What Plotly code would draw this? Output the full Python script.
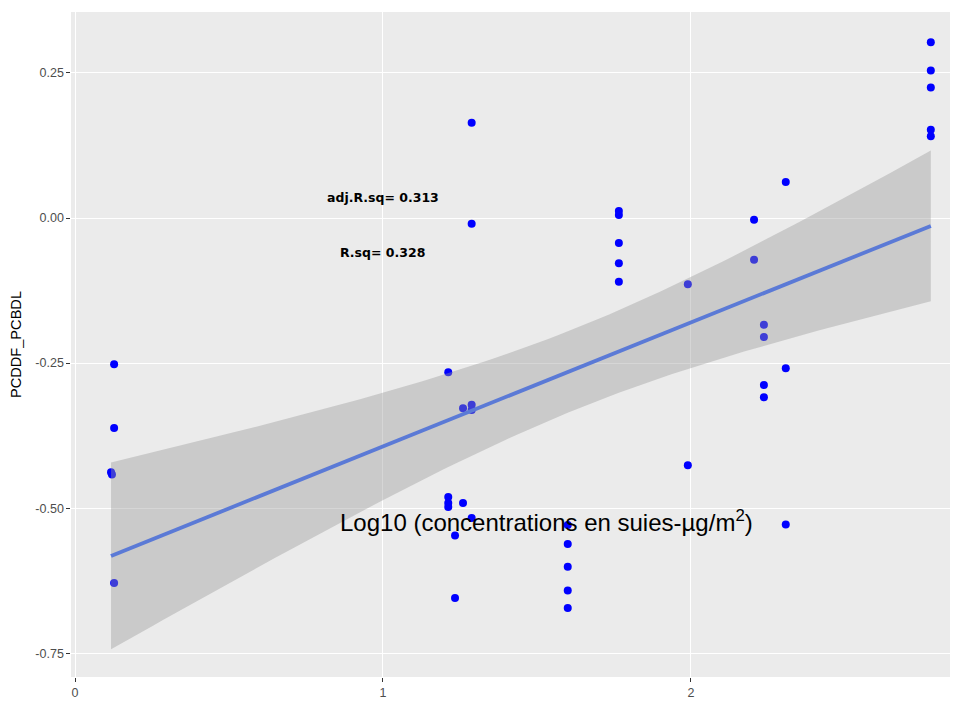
import numpy as np
import plotly.graph_objects as go

# Log10 concentration (x) and PCDDF_PCBDL (y)
x_vals = [0.127, 0.127, 0.117, 0.120, 0.127,
          1.212, 1.212, 1.212, 1.212,
          1.234, 1.234,
          1.260, 1.260,
          1.288, 1.288, 1.288, 1.288, 1.288,
          1.600, 1.600, 1.600, 1.600, 1.600,
          1.766, 1.766, 1.766, 1.766, 1.766,
          1.990, 1.990,
          2.205, 2.205,
          2.237, 2.237, 2.237, 2.237,
          2.308, 2.308, 2.308,
          2.779, 2.779, 2.779, 2.779, 2.779]
y_vals = [-0.252, -0.362, -0.438, -0.442, -0.629,
          -0.266, -0.481, -0.491, -0.498,
          -0.547, -0.655,
          -0.328, -0.491,
          -0.322, -0.331, 0.164, -0.010, -0.517,
          -0.529, -0.562, -0.601, -0.642, -0.672,
          0.012, 0.005, -0.043, -0.078, -0.110,
          -0.114, -0.426,
          -0.003, -0.072,
          -0.184, -0.205, -0.288, -0.309,
          0.062, -0.259, -0.528,
          0.303, 0.254, 0.225, 0.152, 0.141]

x_ticks = [0, 1, 2]
x_tick_labels = ["0", "1", "2"]
y_ticks = [-0.75, -0.5, -0.25, 0.0, 0.25]
y_tick_labels = ["-0.75", "-0.50", "-0.25", "0.00", "0.25"]

stat_labels = ["adj.R.sq= 0.313", "R.sq= 0.328"]
stat_label_x = [1.0, 1.0]
stat_label_y = [0.036, -0.060]

x_title = "Log10 (concentrations en suies-µg/m<sup>2</sup>)"
y_title = "PCDDF_PCBDL"

# linear fit with 95% confidence band (like geom_smooth(method="lm"))
xa = np.array(x_vals)
ya = np.array(y_vals)
n = len(xa)
slope, intercept = np.polyfit(xa, ya, 1)
resid = ya - (slope * xa + intercept)
s = np.sqrt(np.sum(resid ** 2) / (n - 2))
sxx = np.sum((xa - xa.mean()) ** 2)
t_crit = 2.017
xs = np.linspace(xa.min(), xa.max(), 80)
fit = slope * xs + intercept
se = s * np.sqrt(1.0 / n + (xs - xa.mean()) ** 2 / sxx)
lo = fit - t_crit * se
hi = fit + t_crit * se

fig = go.Figure()
fig.add_trace(go.Scatter(
    x=x_vals, y=y_vals, mode="markers",
    marker=dict(color="rgb(0,0,255)", size=8, line=dict(width=0)),
    showlegend=False, hoverinfo="x+y"))
fig.add_trace(go.Scatter(
    x=xs, y=fit, mode="lines", line=dict(color="rgba(51,102,255,1)", width=3.8),
    showlegend=False, hoverinfo="skip"))
fig.add_trace(go.Scatter(
    x=np.concatenate([xs, xs[::-1]]), y=np.concatenate([hi, lo[::-1]]),
    mode="lines", fill="toself", fillcolor="rgba(153,153,153,0.4)",
    line=dict(width=0, color="rgba(0,0,0,0)"), showlegend=False, hoverinfo="skip"))

for txt, ax_, ay_ in zip(stat_labels, stat_label_x, stat_label_y):
    fig.add_annotation(x=ax_, y=ay_, xref="x", yref="y", text="<b>" + txt + "</b>",
                       showarrow=False, xanchor="center", yanchor="middle",
                       font=dict(family="DejaVu Sans", size=12.5, color="black"))

fig.add_annotation(x=0.537, y=0.2346, xref="paper", yref="paper", text=x_title,
                   showarrow=False, xanchor="center", yanchor="middle",
                   font=dict(family="Arial", size=24, color="black"))

axis_common = dict(
    showgrid=True, gridcolor="white", gridwidth=1.3, zeroline=False, showline=False,
    ticks="outside", ticklen=3.65, tickwidth=0.66, tickcolor="rgba(51,51,51,1)",
    automargin=False,
    tickfont=dict(family="Arial", size=12.5, color="rgba(77,77,77,1)"))

# the page body adds an 8px offset, so the figure is sized to compensate
fig.update_layout(
    width=950, height=693,
    margin=dict(l=63, r=1, t=4, b=24),
    paper_bgcolor="white", plot_bgcolor="rgb(235,235,235)",
    font=dict(family="Arial"),
    xaxis=dict(range=[-0.013, 2.864], tickvals=x_ticks, ticktext=x_tick_labels, **axis_common),
    yaxis=dict(range=[-0.791, 0.355], tickvals=y_ticks, ticktext=y_tick_labels,
               title=dict(text=y_title, font=dict(family="Arial", size=14.6, color="black"),
                          standoff=10),
               **axis_common),
)

fig.write_html("out.html")
